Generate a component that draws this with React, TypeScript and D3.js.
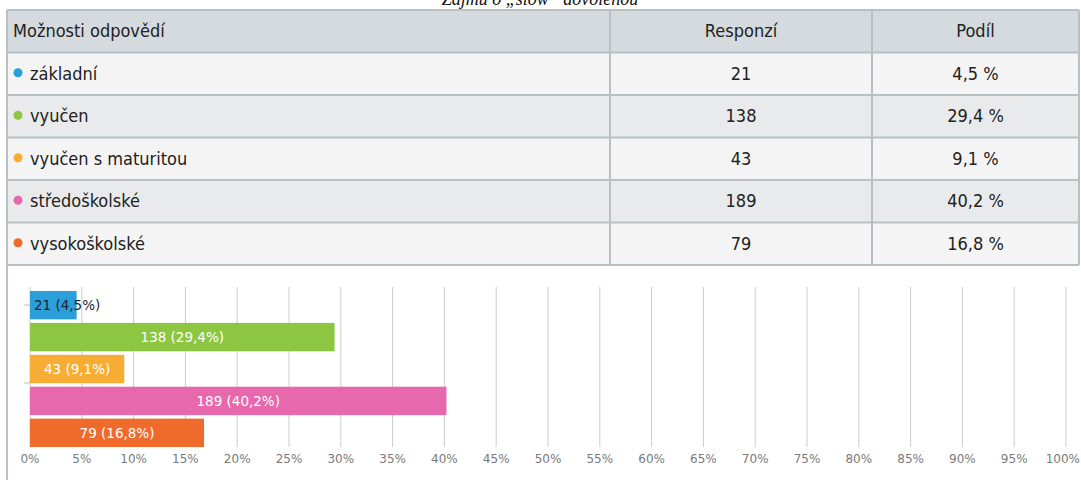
import React from "react";
import * as d3 from "d3";

const caption = "Zájmu o „slow“ dovolenou";
const headers = ["Možnosti odpovědí", "Responzí", "Podíl"];
const categories = ["základní", "vyučen", "vyučen s maturitou", "středoškolské", "vysokoškolské"];
const counts = [21, 138, 43, 189, 79];
const shares = [4.5, 29.4, 9.1, 40.2, 16.8];
const colors = ["#2b9fd9", "#8dc640", "#f7ad34", "#e868ad", "#ef6b2c"];
const xTicks = d3.range(0, 101, 5);

const fmt = (v: number) => v.toFixed(1).replace(".", ",");

export default function App() {
  const W = 1081;
  const H = 480;
  const left = 7;
  const right = 1079;
  const rowTop = 10;
  const rowH = 42.5;
  const col1 = 610;
  const col2 = 872;
  const tableBottom = rowTop + rowH * (categories.length + 1);

  const x = d3.scaleLinear().domain([0, 100]).range([30, 1066]);
  const y = d3.scaleBand<number>().domain(d3.range(categories.length)).range([290, 448]).paddingInner(0.11).paddingOuter(0.03);

  const tableFont = "'DejaVu Sans Condensed', 'Liberation Sans Narrow', sans-serif";
  const chartFont = "'DejaVu Sans', Verdana, sans-serif";

  return (
    <svg width={W} height={H} style={{ position: "absolute", left: 0, top: 0, background: "#fff" }}>
      <text x={540} y={5} textAnchor="middle" fontFamily="'Liberation Serif', serif" fontStyle="italic" fontSize={18} fill="#111">
        {caption}
      </text>
      <rect x={left} y={rowTop} width={right - left} height={rowH} fill="#d4dadd" />
      {categories.map((c, i) => (
        <rect key={"r" + i} x={left} y={rowTop + rowH * (i + 1)} width={right - left} height={rowH} fill={i % 2 === 0 ? "#f4f4f4" : "#e8eaeb"} />
      ))}
      {d3.range(categories.length + 2).map((i) => (
        <line key={"h" + i} x1={left} x2={right} y1={rowTop + rowH * i} y2={rowTop + rowH * i} stroke="#b8c0c3" strokeWidth={2} />
      ))}
      <line x1={col1} x2={col1} y1={rowTop} y2={tableBottom} stroke="#b8c0c3" strokeWidth={2} />
      <line x1={col2} x2={col2} y1={rowTop} y2={tableBottom} stroke="#b8c0c3" strokeWidth={2} />
      <line x1={left} x2={left} y1={rowTop} y2={H} stroke="#b8c0c3" strokeWidth={2} />
      <line x1={right} x2={right} y1={rowTop} y2={tableBottom} stroke="#b8c0c3" strokeWidth={2} />
      <g fontFamily={tableFont} fontSize={18} fill="#222">
        <text x={13} y={rowTop + rowH / 2 + 6}>{headers[0]}</text>
        <text x={(col1 + col2) / 2} y={rowTop + rowH / 2 + 6} textAnchor="middle">{headers[1]}</text>
        <text x={(col2 + right) / 2} y={rowTop + rowH / 2 + 6} textAnchor="middle">{headers[2]}</text>
        {categories.map((c, i) => {
          const cy = rowTop + rowH * (i + 1) + rowH / 2;
          return (
            <g key={"t" + i}>
              <circle cx={18} cy={cy - 1} r={4.5} fill={colors[i]} />
              <text x={30} y={cy + 6}>{c}</text>
              <text x={(col1 + col2) / 2} y={cy + 6} textAnchor="middle">{counts[i]}</text>
              <text x={(col2 + right) / 2} y={cy + 6} textAnchor="middle">{fmt(shares[i]) + " %"}</text>
            </g>
          );
        })}
      </g>
      {xTicks.map((t) => {
        const last = t === 100;
        return (
          <g key={"g" + t}>
            <line x1={x(t)} x2={x(t)} y1={287} y2={447} stroke="#cccccc" strokeWidth={1} />
            <text
              x={last ? W - 1 : x(t)}
              y={463}
              textAnchor={last ? "end" : "middle"}
              fontFamily={chartFont}
              fontSize={12}
              fill="#7a7a7a"
            >
              {t + "%"}
            </text>
          </g>
        );
      })}
      <line x1={24} x2={30} y1={305} y2={305} stroke="#bbb" />
      <line x1={24} x2={30} y1={383} y2={383} stroke="#bbb" />
      {categories.map((c, i) => {
        const by = y(i) as number;
        const bh = y.bandwidth();
        const w = x(shares[i]) - x(0);
        const label = `${counts[i]} (${fmt(shares[i])}%)`;
        const inside = w > 80;
        return (
          <g key={"b" + i}>
            <rect x={x(0)} y={by} width={w} height={bh} fill={colors[i]} />
            <text
              x={inside ? x(0) + w / 2 : x(0) + 4}
              y={by + bh / 2 + 5}
              textAnchor={inside ? "middle" : "start"}
              fontFamily={chartFont}
              fontSize={13.5}
              fill={inside ? "#ffffff" : "#1b2636"}
            >
              {label}
            </text>
          </g>
        );
      })}
    </svg>
  );
}
